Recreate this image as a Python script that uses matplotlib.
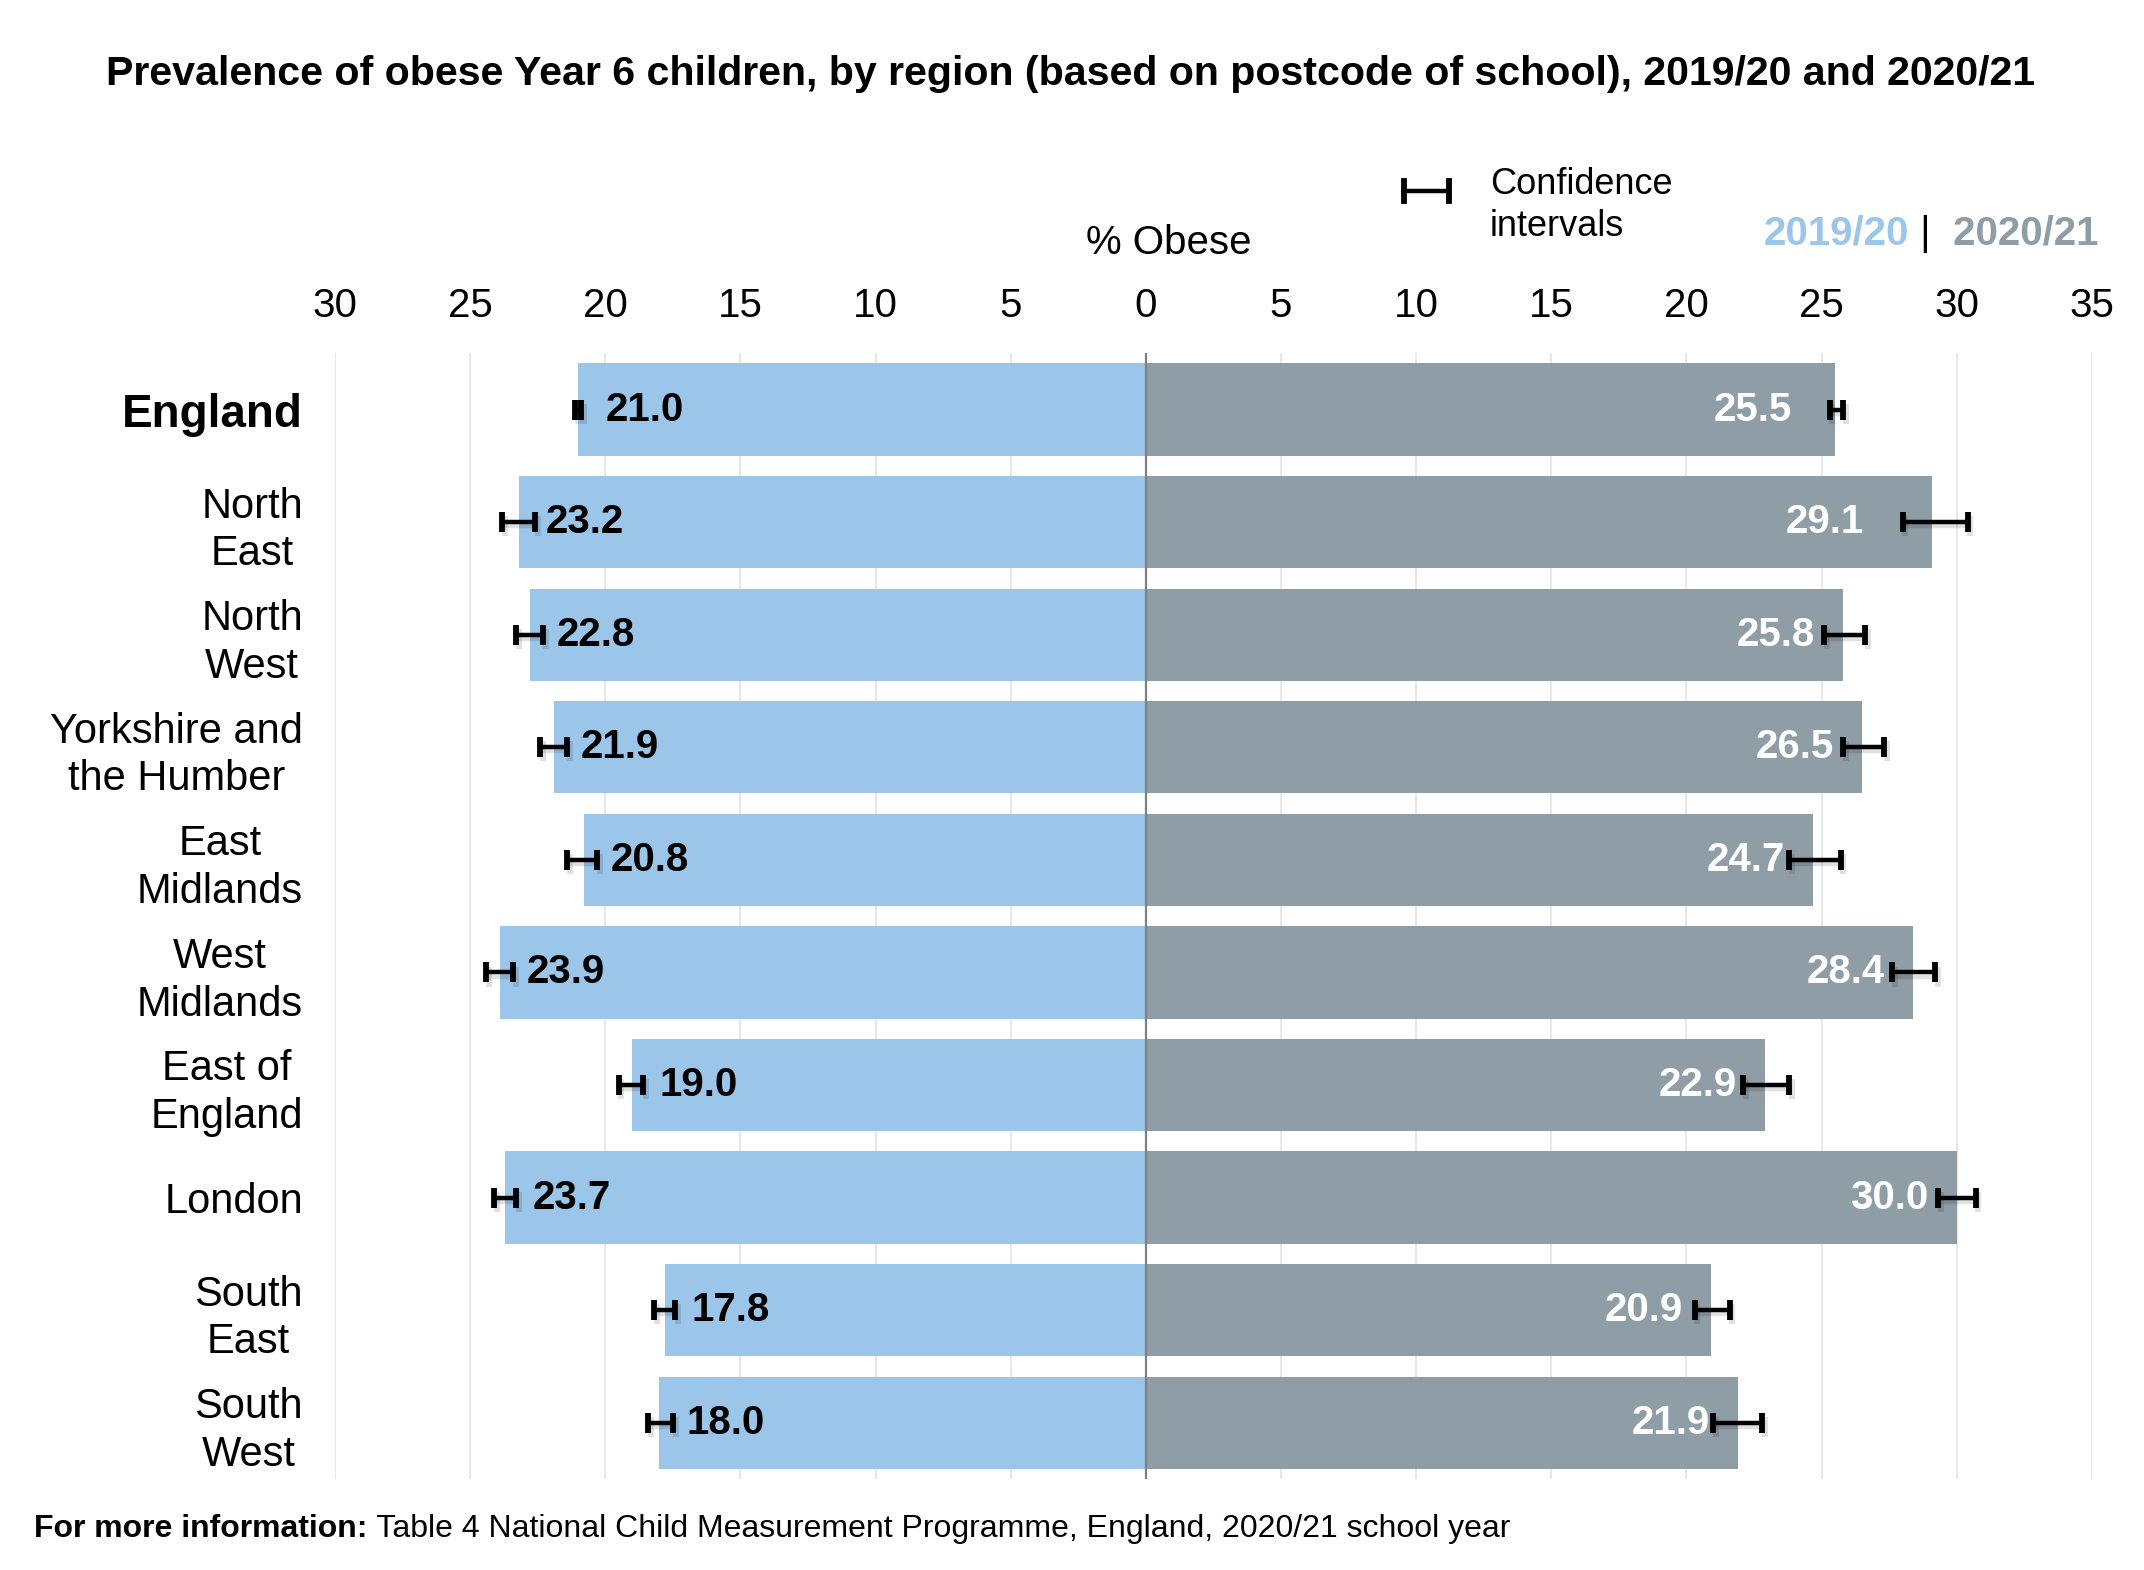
import matplotlib.pyplot as plt
import matplotlib.patheffects as pe
from matplotlib.lines import Line2D
import numpy as np

plt.rcParams["font.family"] = ["Liberation Sans", "DejaVu Sans"]

regions = ["England", "North\nEast", "North\nWest", "Yorkshire and\nthe Humber",
           "East\nMidlands", "West\nMidlands", "East of\nEngland", "London",
           "South\nEast", "South\nWest"]

obese_1920 = [21.0, 23.2, 22.8, 21.9, 20.8, 23.9, 19.0, 23.7, 17.8, 18.0]
ci_low_1920 = [20.9, 22.6, 22.3, 21.4, 20.3, 23.4, 18.6, 23.3, 17.4, 17.5]
ci_high_1920 = [21.1, 23.8, 23.3, 22.4, 21.4, 24.4, 19.5, 24.1, 18.2, 18.4]

obese_2021 = [25.5, 29.1, 25.8, 26.5, 24.7, 28.4, 22.9, 30.0, 20.9, 21.9]
ci_low_2021 = [25.3, 28.0, 25.1, 25.8, 23.8, 27.6, 22.1, 29.3, 20.3, 21.0]
ci_high_2021 = [25.8, 30.4, 26.6, 27.3, 25.7, 29.2, 23.8, 30.7, 21.6, 22.8]

ticks = [-30, -25, -20, -15, -10, -5, 0, 5, 10, 15, 20, 25, 30, 35]

# a couple of the white labels sit further left, clear of the error bar
nudge_2021 = {"England": 0.55, "North\nEast": 1.5}

blue = "#9BC5E9"
grey = "#8F9DA7"

v1 = np.array(obese_1920)
v2 = np.array(obese_2021)
y = np.arange(len(regions))

fig = plt.figure(figsize=(21.44, 15.70), dpi=100)
ax = fig.add_axes([0.1562, 0.058, 0.8195, 0.717])

ax.barh(y, -v1, height=0.82, color=blue, zorder=2)
ax.barh(y, v2, height=0.82, color=grey, zorder=2)

shadow = [pe.SimpleLineShadow(offset=(2, -3), shadow_color="black", alpha=0.12), pe.Normal()]

err1 = [np.array(ci_high_1920) - v1, v1 - np.array(ci_low_1920)]
err2 = [v2 - np.array(ci_low_2021), np.array(ci_high_2021) - v2]
for x, err in [(-v1, err1), (v2, err2)]:
    line, caps, bars = ax.errorbar(x, y, xerr=err, fmt="none", ecolor="black",
                                   elinewidth=3.2, capsize=7.2, capthick=4.2, zorder=4)
    for c in caps:
        c.set_path_effects(shadow)
    for b in bars:
        b.set_path_effects(shadow)

for i in range(len(regions)):
    ax.text(-v1[i] + 1.0, y[i], f"{v1[i]:.1f}", ha="left", va="center",
            fontsize=29, fontweight="bold", color="black", zorder=5)
    ax.text(v2[i] - 1.05 - nudge_2021.get(regions[i], 0), y[i], f"{v2[i]:.1f}", ha="right", va="center",
            fontsize=29, fontweight="bold", color="white", zorder=5)

ax.axvline(0, color="#808080", lw=1.6, zorder=3)
for t in ticks:
    if t != 0:
        ax.axvline(t, color="#E3E3E3", lw=1.2, zorder=1)

ax.set_xlim(-30, 35)
ax.set_ylim(len(regions) - 0.5, -0.5)
ax.xaxis.tick_top()
ax.set_xticks(ticks)
ax.set_xticklabels([str(abs(t)) for t in ticks], fontsize=29)
ax.tick_params(axis="x", length=0, pad=20)
ax.set_yticks(y)
ax.set_yticklabels(regions, fontsize=30, multialignment="center")
ax.tick_params(axis="y", length=0, pad=23)
for lab in ax.get_yticklabels():
    lab.set_linespacing(1.25)
lab = ax.get_yticklabels()[0]
lab.set_fontweight("bold")
lab.set_fontsize(33)
for s in ax.spines.values():
    s.set_visible(False)

fig.text(0.4995, 0.953, "Prevalence of obese Year 6 children, by region (based on postcode of school), 2019/20 and 2020/21",
         ha="center", va="center", fontsize=29.6, fontweight="bold")
fig.text(0.5453, 0.845, "% Obese", ha="center", va="center", fontsize=29)

# legend: confidence interval icon
ix0, ix1, iy, ih = 0.6549, 0.6758, 0.8783, 0.0066
fig.add_artist(Line2D([ix0, ix1], [iy, iy], color="black", lw=3.2, transform=fig.transFigure))
for xx in (ix0, ix1):
    fig.add_artist(Line2D([xx, xx], [iy - ih, iy + ih], color="black", lw=4.2, transform=fig.transFigure))
fig.text(0.695, 0.869, "Confidence\nintervals", ha="left", va="center", fontsize=26, linespacing=1.25)

t1 = fig.text(0.8227, 0.851, "2019/20", ha="left", va="center", fontsize=29, fontweight="bold", color=blue)
t2 = fig.add_artist(plt.Annotation(" | ", xy=(1, 0), xycoords=t1, ha="left", va="bottom", fontsize=29))
fig.add_artist(plt.Annotation(" 2020/21", xy=(1, 0), xycoords=t2, ha="left", va="bottom",
                              fontsize=29, fontweight="bold", color=grey))

f1 = fig.text(0.016, 0.0262, "For more information:", ha="left", va="center", fontsize=23, fontweight="bold")
fig.add_artist(plt.Annotation(" Table 4 National Child Measurement Programme, England, 2020/21 school year",
                              xy=(1, 0.5), xycoords=f1, ha="left", va="center", fontsize=23))

fig.savefig("out.png", dpi=100)
